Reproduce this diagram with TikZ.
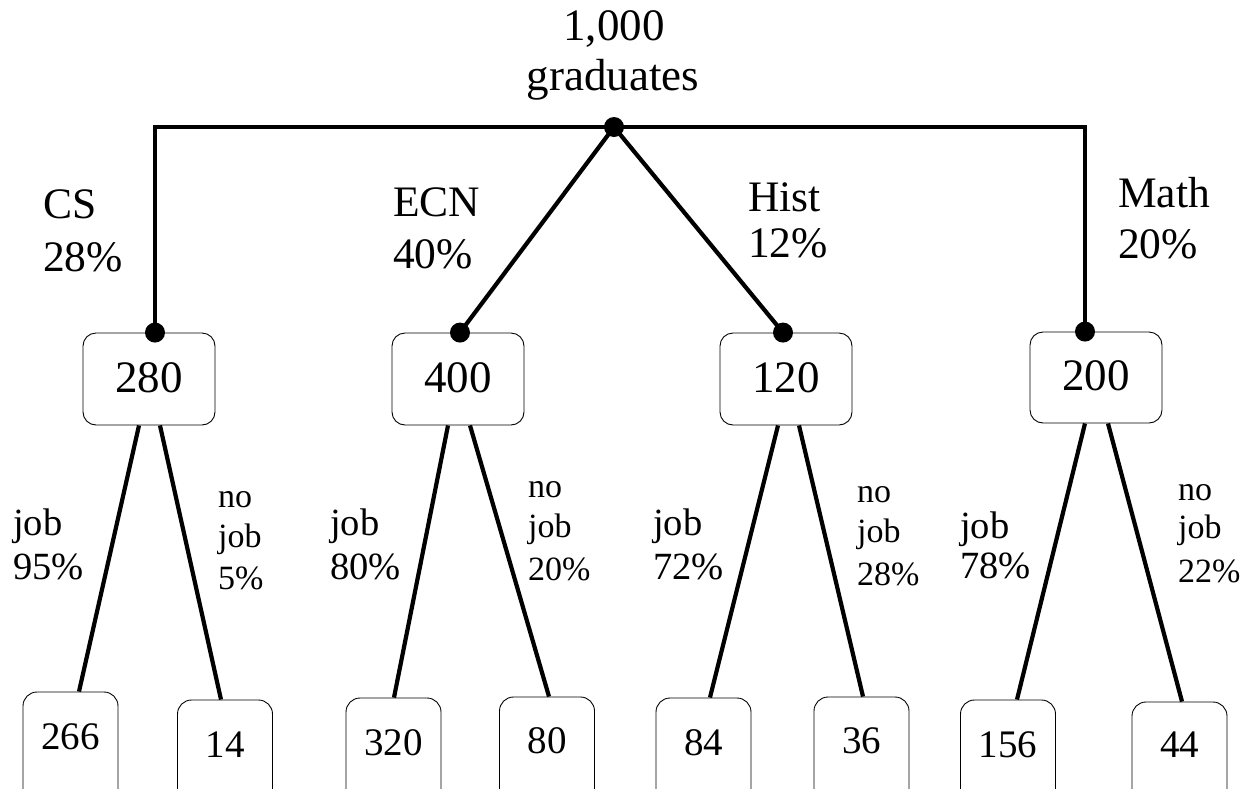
\documentclass[tikz,border=0pt]{standalone}
\usepackage{fontspec}
\setmainfont{Liberation Serif}
\begin{document}
\begin{tikzpicture}[x=1pt,y=-1pt,
  conn/.style={line width=4.2pt},
  dot/.style={circle,fill=black,inner sep=0pt,minimum size=20pt},
  topbox/.style={draw,line width=0.9pt,rounded corners=13pt,minimum width=132pt,inner xsep=0pt,inner ysep=0pt,text height=59pt,text depth=33pt,anchor=base,font=\fontsize{45}{50}\selectfont},
  botbox/.style={draw,line width=0.9pt,rounded corners=14pt,minimum width=95pt,inner xsep=0pt,inner ysep=0pt,text depth=90pt,anchor=base,font=\fontsize{39}{44}\selectfont},
  big/.style={font=\fontsize{45}{50}\selectfont,inner sep=0pt},
  biglab/.style={font=\fontsize{43.5}{50}\selectfont,inner sep=0pt,anchor=base west},
  lab/.style={font=\fontsize{38.5}{44}\selectfont,inner sep=0pt,anchor=base west},
  nlab/.style={font=\fontsize{34}{40}\selectfont,inner sep=0pt,anchor=base west},
]
\fill[white] (0,0) rectangle (1251,788);
\useasboundingbox (0,0) rectangle (1251,788);

% title
\node[big,anchor=base] (t1) at (614,40) {1,000};
\node[big,anchor=base] (t2) at (613,90) {graduates};

% first level boxes
\node[topbox] (b280) at (149,392) {280};
\node[topbox] (b400) at (458,392) {400};
\node[topbox] (b120) at (786,392) {120};
\node[topbox,text height=58pt] (b200) at (1096,390) {200};

% bottom boxes
\node[botbox,text height=57pt] (b266) at (70.5,749) {266};
\node[botbox,text height=57pt] (b14) at (225,757) {14};
\node[botbox,text height=57pt] (b320) at (393.5,755) {320};
\node[botbox,text height=56pt] (b80) at (547,753) {80};
\node[botbox,text height=57pt] (b84) at (703.5,755) {84};
\node[botbox,text height=56pt] (b36) at (861.5,753) {36};
\node[botbox,text height=57pt] (b156) at (1008,757) {156};
\node[botbox,text height=55pt] (b44) at (1179.5,757) {44};

% dot positions
\coordinate (root) at (614,127);
\coordinate (cCS) at ([xshift=6pt]b280.north);
\coordinate (cECN) at ([xshift=2pt]b400.north);
\coordinate (cHist) at ([xshift=-3pt]b120.north);
\coordinate (cMath) at ([xshift=-11pt]b200.north);

% connectors
\draw[conn] (cCS) |- (root) -| (cMath);
\draw[conn] (root) -- (cECN);
\draw[conn] (root) -- (cHist);

\draw[conn] ([xshift=-10pt]b280.south) -- ([xshift=8.5pt]b266.north);
\draw[conn] ([xshift=11pt]b280.south) -- ([xshift=-4pt]b14.north);
\draw[conn] ([xshift=-10pt]b400.south) -- ([xshift=0.5pt]b320.north);
\draw[conn] ([xshift=12pt]b400.south) -- ([xshift=2pt]b80.north);
\draw[conn] ([xshift=-8pt]b120.south) -- ([xshift=6.5pt]b84.north);
\draw[conn] ([xshift=13pt]b120.south) -- ([xshift=1.5pt]b36.north);
\draw[conn] ([xshift=-11pt]b200.south) -- ([xshift=9pt]b156.north);
\draw[conn] ([xshift=12pt]b200.south) -- ([xshift=2.5pt]b44.north);

\node[dot] (droot) at (root) {};
\node[dot] (dCS) at (cCS) {};
\node[dot] (dECN) at (cECN) {};
\node[dot] (dHist) at (cHist) {};
\node[dot] (dMath) at (cMath) {};

% major labels
\node[biglab] (lCS1) at (43,218) {CS};
\node[biglab] (lCS2) at (43,271) {28\%};
\node[biglab] (lECN1) at (393,216) {ECN};
\node[biglab] (lECN2) at (393,268) {40\%};
\node[biglab] (lH1) at (748,211) {Hist};
\node[biglab] (lH2) at (748,257) {12\%};
\node[biglab] (lM1) at (1118,207) {Math};
\node[biglab] (lM2) at (1118,258) {20\%};

% job labels
\node[lab] (j1a) at (13,535) {job};
\node[lab] (j1b) at (13,579) {95\%};
\node[nlab] (n1a) at (218,507) {no};
\node[nlab] (n1b) at (218,547) {job};
\node[nlab] (n1c) at (218,589) {5\%};

\node[lab] (j2a) at (330,535) {job};
\node[lab] (j2b) at (330,579) {80\%};
\node[nlab] (n2a) at (528,497) {no};
\node[nlab] (n2b) at (528,537) {job};
\node[nlab] (n2c) at (528,580) {20\%};

\node[lab] (j3a) at (653,535) {job};
\node[lab] (j3b) at (653,579) {72\%};
\node[nlab] (n3a) at (857,502) {no};
\node[nlab] (n3b) at (857,542) {job};
\node[nlab] (n3c) at (857,585) {28\%};

\node[lab] (j4a) at (960,538) {job};
\node[lab] (j4b) at (960,578) {78\%};
\node[nlab] (n4a) at (1178,500) {no};
\node[nlab] (n4b) at (1178,538) {job};
\node[nlab] (n4c) at (1178,582) {22\%};
\end{tikzpicture}
\end{document}
